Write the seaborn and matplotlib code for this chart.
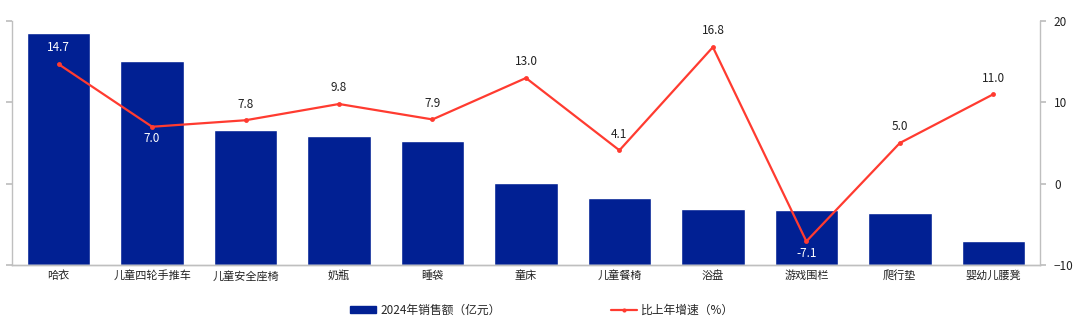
import matplotlib
matplotlib.use("Agg")
import matplotlib.pyplot as plt
import seaborn as sns
import numpy as np
import pandas as pd
from matplotlib.patches import Patch
from matplotlib.lines import Line2D

categories = ["哈衣", "儿童四轮手推车", "儿童安全座椅", "奶瓶", "睡袋", "童床",
              "儿童餐椅", "浴盘", "游戏围栏", "爬行垫", "婴幼儿腰凳"]
sales = [28.6, 25.1, 16.6, 15.9, 15.2, 10.1, 8.2, 6.9, 6.8, 6.4, 3.0]
growth = [14.7, 7.0, 7.8, 9.8, 7.9, 13.0, 4.1, 16.8, -7.1, 5.0, 11.0]
label_below = [False, True, False, False, False, False, False, False, True, False, False]

sns.set_theme(style="white")
plt.rcParams['font.family'] = ['Noto Sans CJK SC', 'DejaVu Sans']

BAR = "#012093"
RED = "#FF3B30"
GRID = "#BFBFBF"

fig = plt.figure(figsize=(10.8, 3.25), dpi=100)
ax = fig.add_axes([0.011, 0.185, 0.952, 0.75])

df = pd.DataFrame({"cat": categories, "sales": sales})
sns.barplot(data=df, x="cat", y="sales", color=BAR, width=0.68, saturation=1, ax=ax)
ax.set_ylim(0, 30)
ax.set_yticks([0, 10, 20, 30])
ax.set_yticklabels([])
ax.set_xlabel("")
ax.set_ylabel("")
ax.set_xlim(-0.5, len(categories) - 0.5)
ax.tick_params(axis="x", labelsize=8, colors="#222222", length=0, pad=4)
ax.tick_params(axis="y", length=4, color=GRID, left=True)

ax2 = ax.twinx()
x = np.arange(len(categories))
sns.lineplot(x=x, y=growth, color=RED, linewidth=1.6, marker="o", markersize=3.5,
             markeredgewidth=0, ax=ax2)
ax2.set_ylim(-10, 20)
ax2.set_yticks([-10, 0, 10, 20])
ax2.tick_params(axis="y", labelsize=8.5, colors="#222222", length=4, color=GRID, pad=6)
ax2.set_xlim(-0.5, len(categories) - 0.5)

for i, (g, below) in enumerate(zip(growth, label_below)):
    bar_top_in_ax2 = sales[i] - 10
    ytxt = g - 1.5 if below else g + 2.0
    inside = ytxt < bar_top_in_ax2
    ax2.text(i, ytxt, f"{g:.1f}", ha="center", va="center", fontsize=8.5, fontweight="medium",
             color="white" if inside else "#222222", family=['Noto Sans CJK SC', 'DejaVu Sans'])

for a in (ax, ax2):
    a.spines["top"].set_visible(False)
    for s in ("left", "right", "bottom"):
        a.spines[s].set_color(GRID)
        a.spines[s].set_linewidth(1.0)
ax2.spines["left"].set_visible(False)
ax.spines["right"].set_visible(False)

handles = [Patch(facecolor=BAR, edgecolor=BAR),
           Line2D([0], [0], color=RED, linewidth=1.6, marker="o", markersize=3, markeredgewidth=0)]
fig.legend(handles, ["2024年销售额（亿元）", "比上年增速（%）"], loc="center",
           bbox_to_anchor=(0.502, 0.045), ncol=2, frameon=False, fontsize=8.5,
           columnspacing=9.3, handlelength=2.2, handleheight=0.6, handletextpad=0.4)

fig.savefig("out.png", dpi=100)
